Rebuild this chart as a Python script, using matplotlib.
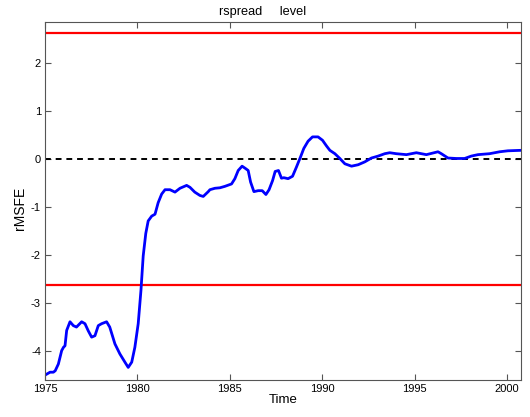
import numpy as np
import matplotlib.pyplot as plt

plt.rcParams['font.family'] = ['Liberation Sans', 'DejaVu Sans']
plt.rcParams['axes.unicode_minus'] = False

# rMSFE path (year, value)
years = [1975.0, 1975.27, 1975.45, 1975.55, 1975.72, 1975.9, 1976.0, 1976.08, 1976.17,
         1976.35, 1976.53, 1976.7, 1976.98, 1977.16, 1977.34, 1977.52, 1977.7, 1977.88,
         1978.06, 1978.33, 1978.5, 1978.78, 1979.05, 1979.32, 1979.5, 1979.69, 1979.86,
         1980.04, 1980.19, 1980.31, 1980.45, 1980.58, 1980.77, 1980.95, 1981.12, 1981.31,
         1981.49, 1981.76, 1982.03, 1982.3, 1982.66, 1982.84, 1983.1, 1983.38, 1983.56,
         1983.83, 1983.92, 1984.19, 1984.46, 1984.73, 1985.09, 1985.27, 1985.45, 1985.66,
         1985.85, 1985.99, 1986.12, 1986.3, 1986.53, 1986.75, 1986.95, 1987.12, 1987.31,
         1987.45, 1987.63, 1987.79, 1987.92, 1988.15, 1988.39, 1988.6, 1988.82, 1989.0,
         1989.23, 1989.47, 1989.77, 1990.01, 1990.23, 1990.41, 1990.68, 1990.95, 1991.22,
         1991.58, 1991.94, 1992.3, 1992.66, 1993.02, 1993.38, 1993.65, 1994.0, 1994.55,
         1995.09, 1995.63, 1996.26, 1996.44, 1996.8, 1997.25, 1997.7, 1998.06, 1998.42,
         1999.05, 1999.6, 2000.04, 2000.75]
rmsfe = [-4.50, -4.44, -4.44, -4.41, -4.27, -3.99, -3.92, -3.89, -3.57,
         -3.39, -3.47, -3.50, -3.39, -3.43, -3.58, -3.71, -3.68, -3.47,
         -3.43, -3.39, -3.50, -3.85, -4.06, -4.23, -4.34, -4.23, -3.92,
         -3.43, -2.73, -2.02, -1.55, -1.29, -1.19, -1.15, -0.91, -0.73,
         -0.64, -0.64, -0.69, -0.61, -0.55, -0.59, -0.69, -0.76, -0.78,
         -0.68, -0.64, -0.61, -0.60, -0.57, -0.52, -0.41, -0.24, -0.15,
         -0.20, -0.24, -0.48, -0.68, -0.66, -0.66, -0.74, -0.64, -0.45,
         -0.26, -0.24, -0.40, -0.39, -0.41, -0.36, -0.17, 0.04, 0.22,
         0.37, 0.46, 0.46, 0.39, 0.27, 0.18, 0.11, 0.01, -0.10,
         -0.15, -0.12, -0.06, 0.02, 0.06, 0.11, 0.13, 0.11, 0.09,
         0.13, 0.09, 0.15, 0.11, 0.02, 0.01, 0.01, 0.06, 0.09,
         0.11, 0.15, 0.17, 0.18]
crit = 2.62
xticks = [1975, 1980, 1985, 1990, 1995, 2000]
yticks = [-4, -3, -2, -1, 0, 1, 2]

fig = plt.figure(figsize=(5.3, 4.17), dpi=100)
ax = fig.add_axes([0.085, 0.089, 0.898, 0.858])

ax.axhline(crit, color='red', lw=1.6)
ax.axhline(-crit, color='red', lw=1.6)
ax.axhline(0, color='black', lw=1.4, ls=(0, (3, 2.5)))
ax.plot(years, rmsfe, color='blue', lw=2.0)

ax.set_xlim(1975, 2000.75)
ax.set_ylim(-4.6, 2.85)
ax.set_xticks(xticks)
ax.set_yticks(yticks)
ax.tick_params(direction='in', top=True, right=True, labelsize=8, length=4,
               color='#555555', pad=3)
for s in ax.spines.values():
    s.set_color('#555555')
    s.set_linewidth(0.8)

ax.set_xlabel('Time', fontsize=9.5, labelpad=0)
ax.set_ylabel('rMSFE', fontsize=10)
ax.yaxis.set_label_coords(-0.038, 0.48)
# title sits left of centre in the reference
ax.text(0.457, 1.012, 'rspread     level', transform=ax.transAxes,
        ha='center', va='bottom', fontsize=9.2)

fig.savefig('out.png', dpi=100)
